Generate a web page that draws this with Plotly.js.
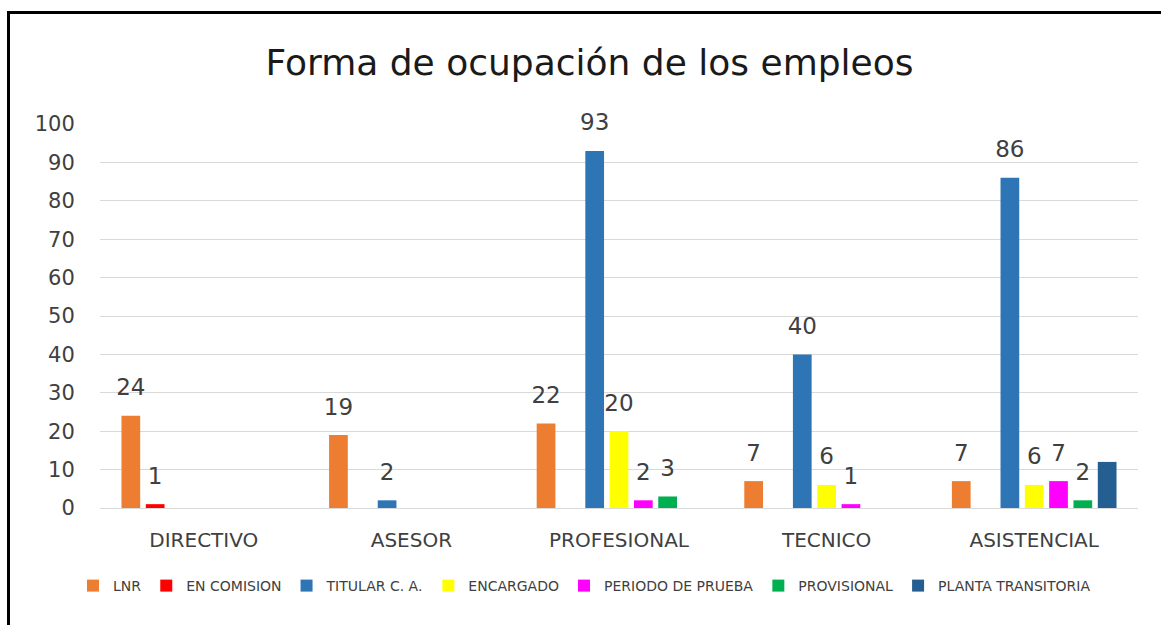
<!DOCTYPE html>
<html>
<head>
<meta charset="utf-8">
<script src="https://cdn.plot.ly/plotly-3.0.1.min.js"></script>
<style>
  html, body { margin: 0; padding: 0; background: #fff; overflow: hidden; }
  #chart { position: absolute; left: 0; top: 0; width: 1161px; height: 625px; }
  #frame { position: absolute; left: 7px; top: 11px; width: 2000px; height: 1000px;
           border-left: 3px solid #000; border-top: 3px solid #000; pointer-events: none; }
</style>
</head>
<body>
<div id="chart"></div>
<div id="frame"></div>
<script>
const categories = ['DIRECTIVO', 'ASESOR', 'PROFESIONAL', 'TECNICO', 'ASISTENCIAL'];
const seriesNames = ['LNR', 'EN COMISION', 'TITULAR C. A.', 'ENCARGADO', 'PERIODO DE PRUEBA', 'PROVISIONAL', 'PLANTA TRANSITORIA'];
const lnr        = [24, 19, 22, 7, 7];
const enComision = [1, null, null, null, null];
const titular    = [null, 2, 93, 40, 86];
const encargado  = [null, null, 20, 6, 6];
const periodo    = [null, null, 2, 1, 7];
const provisional= [null, null, 3, null, 2];
const planta     = [null, null, null, null, 12];
const showLabels = [true, true, true, true, true, true, false];
const colors = ['#ED7D31', '#FF0000', '#2E75B6', '#FFFF00', '#FF00FF', '#00B050', '#255E91'];

const allSeries = [lnr, enComision, titular, encargado, periodo, provisional, planta];
const FONT = 'DejaVu Sans, sans-serif';

const traces = [];
allSeries.forEach((vals, i) => {
  traces.push({
    type: 'bar', name: seriesNames[i], x: categories, y: vals,
    marker: { color: colors[i] }, hoverinfo: 'none'
  });
});
allSeries.forEach((vals, i) => {
  traces.push({
    type: 'scatter', mode: 'markers+text', x: categories, y: vals,
    text: vals.map(v => (v === null || !showLabels[i]) ? '' : String(v)),
    textposition: 'top center',
    textfont: { family: FONT, size: 23, color: '#404040' },
    marker: { size: 22, color: 'rgba(0,0,0,0)' },
    showlegend: false, hoverinfo: 'none', cliponaxis: false
  });
});

const layout = {
  width: 1161, height: 625,
  paper_bgcolor: '#fff', plot_bgcolor: '#fff',
  margin: { l: 100, r: 23, t: 124, b: 117 },
  barmode: 'group', bargap: 0.18, bargroupgap: 0.23,
  scattermode: 'group', scattergap: 0.18,
  title: {
    text: 'Forma de ocupación de los empleos',
    font: { family: FONT, size: 36, color: '#1a1a1a' },
    xref: 'container', x: 0.5078, xanchor: 'center',
    yref: 'container', y: 1 - 62 / 625, yanchor: 'middle'
  },
  xaxis: {
    type: 'category', showgrid: false, showline: false, zeroline: false,
    ticks: 'outside', ticklen: 14, tickcolor: 'rgba(0,0,0,0)',
    tickfont: { family: FONT, size: 20, color: '#404040' }
  },
  yaxis: {
    range: [0, 100], dtick: 10, tick0: 0,
    showgrid: true, gridcolor: '#D9D9D9', gridwidth: 1,
    zeroline: true, zerolinecolor: '#D9D9D9', zerolinewidth: 1,
    showline: false, ticks: 'outside', ticklen: 20, tickcolor: 'rgba(0,0,0,0)',
    tickfont: { family: FONT, size: 21, color: '#404040' }
  },
  legend: {
    orientation: 'h', xref: 'paper', x: (584.5 - 100) / 1038, xanchor: 'center',
    yref: 'container', y: 1 - 586 / 625, yanchor: 'middle',
    font: { family: FONT, size: 14, color: '#404040' },
    traceorder: 'normal'
  },
  showlegend: true
};

Plotly.newPlot('chart', traces, layout, { staticPlot: true, displayModeBar: false });
</script>
</body>
</html>
